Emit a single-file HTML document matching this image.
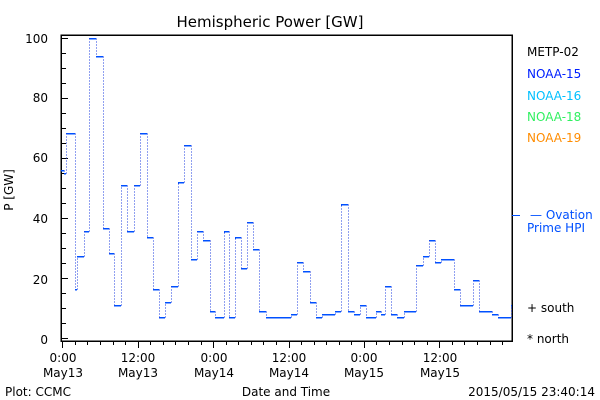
<!DOCTYPE html>
<html><head><meta charset="utf-8"><style>
html,body{margin:0;padding:0;background:#fff;width:600px;height:400px;overflow:hidden}
text{font-family:"DejaVu Sans","Liberation Sans",sans-serif;font-size:12px}
line{shape-rendering:crispEdges}
</style></head><body>
<svg id="s" width="600" height="400" viewBox="0 0 600 400" xmlns="http://www.w3.org/2000/svg">
<rect width="600" height="400" fill="#fff"/>
<text x="270" y="27" text-anchor="middle" style="font-size:15px">Hemispheric Power [GW]</text>
<text transform="translate(13,190) rotate(-90)" text-anchor="middle">P [GW]</text>
<rect x="61" y="35" width="451" height="306" fill="none" stroke="#000" stroke-width="1.5" shape-rendering="crispEdges"/>
<g id="ax" stroke="#000" stroke-width="1"></g>
<g text-anchor="end">
<text x="48" y="43">100</text><text x="48" y="102">80</text><text x="48" y="162">60</text>
<text x="48" y="223">40</text><text x="48" y="284">20</text><text x="48" y="344">0</text>
</g>
<g text-anchor="middle">
<text x="63" y="362">0:00</text><text x="63" y="377">May13</text>
<text x="138" y="362">12:00</text><text x="138" y="377">May13</text>
<text x="214" y="362">0:00</text><text x="214" y="377">May14</text>
<text x="289" y="362">12:00</text><text x="289" y="377">May14</text>
<text x="364" y="362">0:00</text><text x="364" y="377">May15</text>
<text x="440" y="362">12:00</text><text x="440" y="377">May15</text>
<text x="286" y="396">Date and Time</text>
</g>
<text x="5" y="396">Plot: CCMC</text>
<text x="595" y="396" text-anchor="end">2015/05/15 23:40:14</text>
<text x="527" y="56" fill="#000">METP-02</text>
<text x="527" y="78" fill="#0020ff">NOAA-15</text>
<text x="527" y="100" fill="#00c0ff">NOAA-16</text>
<text x="527" y="121" fill="#30f060">NOAA-18</text>
<text x="527" y="142" fill="#ff8c00">NOAA-19</text>
<line x1="512" y1="215.5" x2="520" y2="215.5" stroke="#0050ff"/>
<text x="530" y="219" fill="#0050ff">— Ovation</text>
<text x="527" y="232" fill="#0050ff">Prime HPI</text>
<text x="527" y="312">+ south</text>
<text x="527" y="343">* north</text>
<g id="d"></g>
</svg>
<script>
var ns="http://www.w3.org/2000/svg",ax=document.getElementById('ax'),d=document.getElementById('d');
function ln(g,x1,y1,x2,y2,c,da,w){var l=document.createElementNS(ns,'line');l.setAttribute('x1',x1);l.setAttribute('y1',y1);l.setAttribute('x2',x2);l.setAttribute('y2',y2);l.setAttribute('stroke',c);if(da)l.setAttribute('stroke-dasharray',da);if(w)l.setAttribute('stroke-width',w);g.appendChild(l);}
function r(v){return Math.round(v)+0.5;}
for(var v=0;v<=100;v+=5){var y=r(338.3-3.0*v);ln(ax,61,y,(v%20==0)?68:66,y,'#000');}
for(var i=0;i<=35;i++){var x=62.3+i*75.4/6;if(x>512)break;x=r(x);ln(ax,x,341,x,(i%6==0)?348:345,'#000');}
var s=[[61,64,170],[64,66,173],[66,75,133],[75,77,289],[77,84,256],[84,89,231],[89,96,38],[96,102.7,56],[102.7,108.7,228],[108.7,114,253],[114,121,305],[121,127,185],[127,134,231],[134,140,185],[140,146.7,133],[146.7,152.7,237],[152.7,159,289],[159,165,317],[165,171,302],[171,178,286],[178,184,182],[184,191,145],[191,197,259],[197,203,231],[203,210,240],[210,215,311],[215,224,317],[224,228.7,231],[228.7,235,317],[235,241,237],[241,247,268],[247,253,222],[253,259,249],[259,266,311],[266,290.7,317],[290.7,296.7,314],[296.7,303,262],[303,310,271],[310,316,302],[316,322,317],[322,335,314],[335,341,311],[341,348,204],[348,354,311],[354,360,314],[360,366,305],[366,376,317],[376,381,311],[381,385,314],[385,391,286],[391,397,314],[397,404,317],[404,416,311],[416,423,265],[423,429,256],[429,435,240],[435,441,262],[441,454,259],[454,460,289],[460,473,305],[473,479,280],[479,492,311],[492,498,314],[498,511,317],[511,512,305]];
for(var k=0;k<s.length;k++){var x1=Math.round(s[k][0]),x2=Math.round(s[k][1]),y=r(s[k][2]);ln(d,x1,y,x2,y,'#0050ff',null,1.5);if(k>0)ln(d,x1+0.5,r(s[k-1][2]),x1+0.5,y,'#2040e0','1 2');}
</script>
</body></html>
